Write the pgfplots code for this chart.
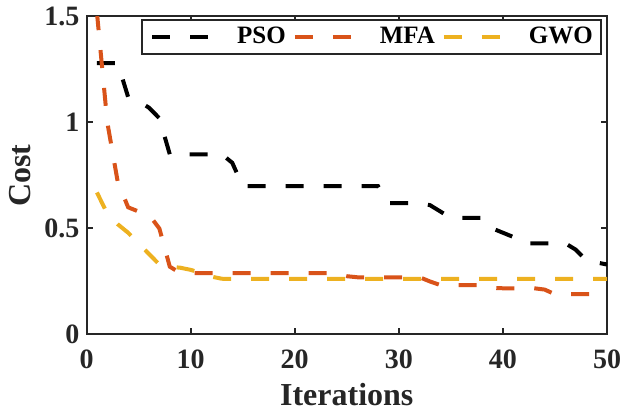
\documentclass[border=0pt]{standalone}
\usepackage{fontspec}
\setmainfont{Liberation Serif}
\usepackage{pgfplots}
\pgfplotsset{compat=1.18}
\definecolor{psoc}{rgb}{0,0,0}
\definecolor{mfac}{rgb}{0.85,0.325,0.098}
\definecolor{gwoc}{rgb}{0.929,0.694,0.125}
\definecolor{axc}{rgb}{0.15,0.15,0.15}
\begin{document}
\begin{tikzpicture}
\path[use as bounding box] (-43.25pt,-37.75pt) rectangle (268.75pt,167.25pt);
\begin{axis}[
 at={(0,0)}, anchor=south west,
 scale only axis, width=260.25pt, height=159pt,
 xmin=0, xmax=50, ymin=0, ymax=1.5,
 xtick={0,10,...,50}, ytick={0,0.5,1,1.5},
 tick align=inside, major tick length=3pt,
 axis line style={axc, line width=1pt},
 every tick/.style={axc, line width=1pt},
 /pgf/number format/assume math mode=true,
 tick label style={font=\fontsize{14}{14}\selectfont\bfseries, text=axc},
 xticklabel style={yshift=-4pt},
 label style={font=\fontsize{16}{16}\selectfont\bfseries, text=axc},
 xlabel={Iterations}, ylabel={Cost},
 xlabel style={at={(axis description cs:0.5,-0.19)}, anchor=center},
 ylabel style={at={(axis description cs:-0.127,0.5)}, anchor=center},
 legend columns=3,
 legend style={at={(0.990,0.992)}, anchor=north east, draw=axc, line width=1pt,
   font=\fontsize{12.5}{12.5}\selectfont\bfseries, inner xsep=4pt, inner ysep=0pt,
   nodes={inner xsep=0pt, inner ysep=2.5pt, text height=9pt, text depth=3pt},
   /tikz/every even column/.append style={column sep=3.5pt},
   /tikz/every odd column/.append style={column sep=11.5pt}},
 legend image code/.code={\draw[#1] (0pt,0pt) -- (30pt,0pt);},
]
\addplot[psoc, line width=2pt, dash pattern=on 9pt off 10pt] table {
1 1.28
2 1.28
3 1.28
4 1.12
5 1.10
6 1.07
7 1.02
8 0.85
9 0.85
10 0.85
11 0.85
12 0.85
13 0.85
14 0.81
15 0.70
16 0.70
17 0.70
18 0.70
19 0.70
20 0.70
21 0.70
22 0.70
23 0.70
24 0.70
25 0.70
26 0.70
27 0.70
28 0.70
29 0.62
30 0.62
31 0.62
32 0.62
33 0.61
34 0.58
35 0.55
36 0.55
37 0.55
38 0.55
39 0.50
40 0.48
41 0.46
42 0.43
43 0.43
44 0.43
45 0.43
46 0.43
47 0.40
48 0.35
49 0.34
50 0.33
};
\addlegendentry{PSO}
\addplot[mfac, line width=2pt, dash pattern=on 9pt off 10pt] table {
1 1.52
2 1.00
3 0.72
4 0.60
5 0.58
6 0.565
7 0.50
8 0.32
9 0.29
10 0.289
11 0.289
12 0.289
13 0.289
14 0.289
15 0.289
16 0.289
17 0.289
18 0.289
19 0.289
20 0.289
21 0.289
22 0.289
23 0.289
24 0.289
25 0.275
26 0.27
27 0.27
28 0.27
29 0.27
30 0.27
31 0.27
32 0.27
33 0.25
34 0.233
35 0.233
36 0.233
37 0.233
38 0.233
39 0.22
40 0.218
41 0.218
42 0.218
43 0.218
44 0.212
45 0.19
46 0.19
47 0.19
48 0.19
49 0.19
50 0.19
};
\addlegendentry{MFA}
\addplot[gwoc, line width=2pt, dash pattern=on 9pt off 10pt] table {
1 0.67
2 0.57
3 0.52
4 0.48
5 0.43
6 0.38
7 0.33
8 0.32
9 0.315
10 0.305
11 0.29
12 0.273
13 0.263
14 0.262
15 0.262
16 0.262
17 0.262
18 0.262
19 0.262
20 0.262
21 0.262
22 0.262
23 0.262
24 0.262
25 0.262
26 0.262
27 0.262
28 0.262
29 0.262
30 0.262
31 0.262
32 0.262
33 0.262
34 0.262
35 0.262
36 0.262
37 0.262
38 0.262
39 0.262
40 0.262
41 0.262
42 0.262
43 0.262
44 0.262
45 0.262
46 0.262
47 0.262
48 0.262
49 0.262
50 0.262
};
\addlegendentry{GWO}
\end{axis}
\end{tikzpicture}
\end{document}
